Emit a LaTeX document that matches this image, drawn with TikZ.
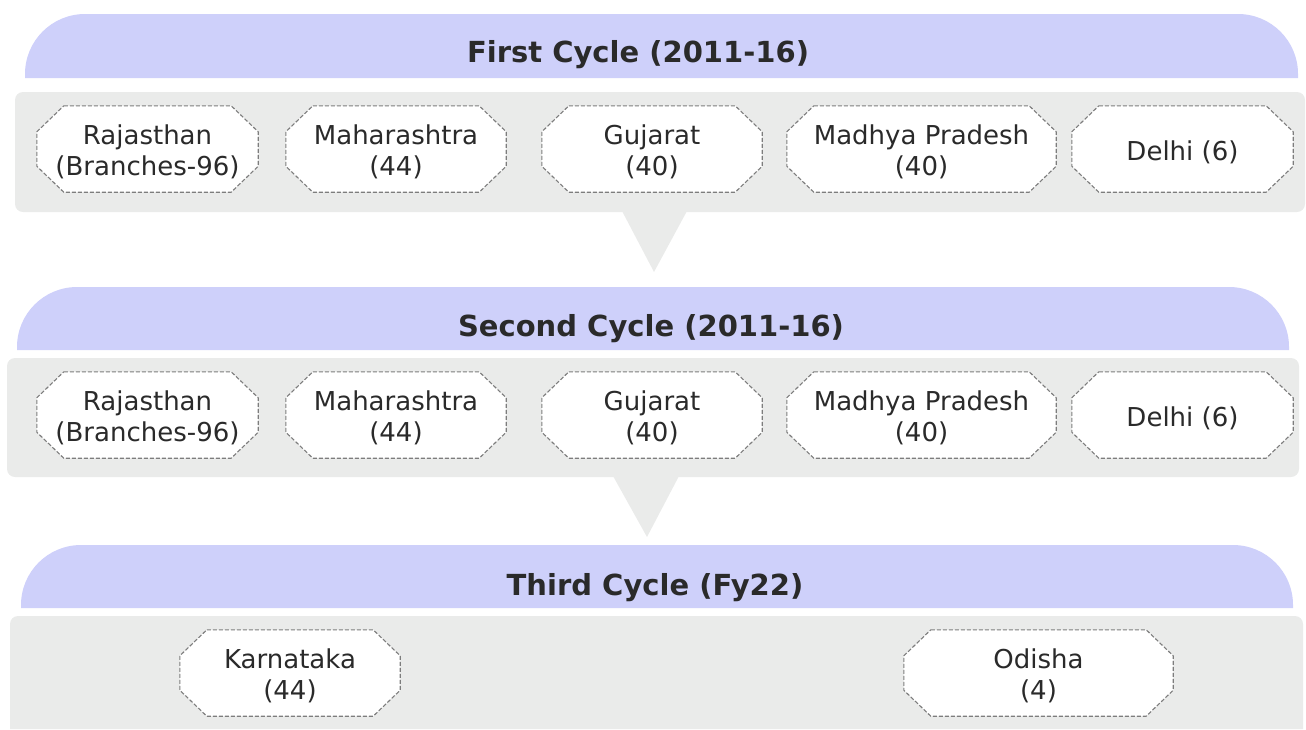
\documentclass[tikz,border=0pt]{standalone}
\usepackage{fontspec}
\setmainfont{DejaVu Sans}
\usetikzlibrary{calc}
\definecolor{lav}{RGB}{206,208,250}
\definecolor{pgray}{RGB}{234,235,234}
\definecolor{dashgray}{RGB}{125,125,125}
\definecolor{txt}{RGB}{42,42,42}
\pgfdeclarelayer{back}
\pgfdeclarelayer{mid}
\pgfsetlayers{back,mid,main}
% octagon outline drawn round a text node; the text sits 3pt below the octagon's centre
\newcommand{\octoutline}[1]{%
  \begin{pgfonlayer}{mid}
  \draw[octline] ($(#1.north west)+(27pt,3pt)$) -- ($(#1.north east)+(-27pt,3pt)$)
    -- ($(#1.north east)+(0pt,-23pt)$) -- ($(#1.south east)+(0pt,29pt)$)
    -- ($(#1.south east)+(-27pt,3pt)$) -- ($(#1.south west)+(27pt,3pt)$)
    -- ($(#1.south west)+(0pt,29pt)$) -- ($(#1.north west)+(0pt,-23pt)$) -- cycle;
  \end{pgfonlayer}}
\begin{document}
\begin{tikzpicture}[x=1pt,y=-1pt,
  header/.style={fill=lav},
  panel/.style={fill=pgray, rounded corners=8pt},
  pointer/.style={fill=pgray},
  octline/.style={draw=dashgray, dash pattern=on 4pt off 2pt,
    line width=1.1pt, fill=white},
  octbox/.style={rectangle, minimum height=86pt, inner sep=0pt,
    align=center, text=txt, font=\fontsize{26}{31}\selectfont},
  ttl/.style={anchor=base, text=txt, inner sep=0pt,
    font=\fontsize{29}{34}\selectfont\bfseries}]
\useasboundingbox (0,0) rectangle (1306,729);

\begin{pgfonlayer}{back}
% ---- First cycle
\fill[header] (25,78) [rounded corners=60pt] -- (25,14) -- (1298,14) [sharp corners] -- (1298,78) -- cycle;
\fill[panel] (15,92) rectangle (1305,212);
\fill[pointer] (622,211) -- (687,211) -- (654,272) -- cycle;
% ---- Second cycle
\fill[header] (17,350) [rounded corners=60pt] -- (17,287) -- (1289,287) [sharp corners] -- (1289,350) -- cycle;
\fill[panel] (7,358) rectangle (1299,477);
\fill[pointer] (613,476) -- (679,476) -- (647,537) -- cycle;
% ---- Third cycle
\fill[header] (21,608) [rounded corners=60pt] -- (21,545) -- (1293,545) [sharp corners] -- (1293,608) -- cycle;
\fill[pgray] (10,729) [rounded corners=8pt] -- (10,616) -- (1303,616) [sharp corners] -- (1303,729) -- cycle;
\end{pgfonlayer}

\node[ttl] (t1) at (638,62) {First Cycle (2011-16)};
\node[octbox, minimum width=221pt] (a1) at (147.5,152) {Rajasthan\\(Branches-96)};
\node[octbox, minimum width=220pt] (a2) at (396,152) {Maharashtra\\(44)};
\node[octbox, minimum width=220pt] (a3) at (652,152) {Gujarat\\(40)};
\node[octbox, minimum width=269pt] (a4) at (921.5,152) {Madhya Pradesh\\(40)};
\node[octbox, minimum width=221pt] (a5) at (1182.5,152) {Delhi (6)};

\node[ttl] (t2) at (651,336) {Second Cycle (2011-16)};
\node[octbox, minimum width=221pt] (b1) at (147.5,418) {Rajasthan\\(Branches-96)};
\node[octbox, minimum width=220pt] (b2) at (396,418) {Maharashtra\\(44)};
\node[octbox, minimum width=220pt] (b3) at (652,418) {Gujarat\\(40)};
\node[octbox, minimum width=269pt] (b4) at (921.5,418) {Madhya Pradesh\\(40)};
\node[octbox, minimum width=221pt] (b5) at (1182.5,418) {Delhi (6)};

\node[ttl] (t3) at (655,595) {Third Cycle (Fy22)};
\node[octbox, minimum width=220pt] (c1) at (290,676) {Karnataka\\(44)};
\node[octbox, minimum width=269pt] (c2) at (1038.5,676) {Odisha\\(4)};

\octoutline{a1}\octoutline{a2}\octoutline{a3}\octoutline{a4}\octoutline{a5}
\octoutline{b1}\octoutline{b2}\octoutline{b3}\octoutline{b4}\octoutline{b5}
\octoutline{c1}\octoutline{c2}
\end{tikzpicture}
\end{document}
